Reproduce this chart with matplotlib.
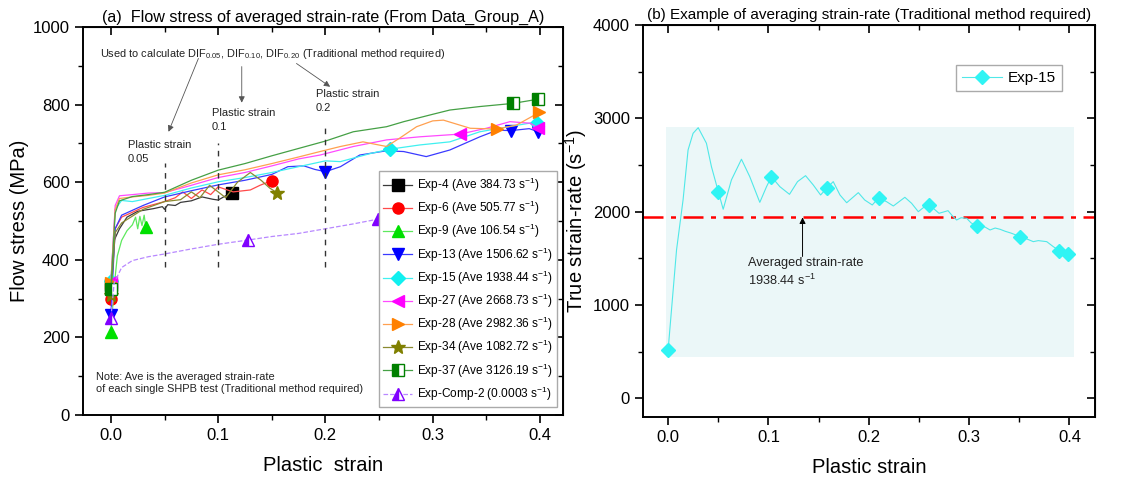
import matplotlib
matplotlib.use('Agg')
import matplotlib.pyplot as plt
from matplotlib.ticker import MultipleLocator
from matplotlib.patches import Rectangle

plt.rcParams['font.family'] = ['Liberation Sans', 'DejaVu Sans']
plt.rcParams['mathtext.default'] = 'regular'

# ================= (a) flow stress vs plastic strain
exp4_x = [0, 0.003, 0.008, 0.015, 0.025, 0.04, 0.048, 0.05, 0.053, 0.06, 0.065, 0.075, 0.085, 0.095, 0.1, 0.107, 0.113]
exp4_y = [335, 450, 480, 510, 525, 532, 537, 530, 542, 540, 548, 552, 562, 556, 554, 565, 573]
exp4_mk = [0, 0.113]

exp6_x = [0, 0.004, 0.01, 0.03, 0.05, 0.06, 0.067, 0.075, 0.085, 0.093, 0.1, 0.114, 0.13, 0.139, 0.15]
exp6_y = [299, 480, 510, 535, 550, 560, 575, 558, 580, 568, 588, 575, 580, 592, 604]
exp6_mk = [0, 0.15]

exp9_x = [0, 0.003, 0.006, 0.01, 0.015, 0.02, 0.023, 0.025, 0.027, 0.029, 0.031, 0.0326]
exp9_y = [215, 330, 410, 450, 475, 490, 510, 480, 512, 488, 515, 484]
exp9_mk = [0, 0.0326]

exp13_x = [0, 0.004, 0.01, 0.03, 0.05, 0.075, 0.1, 0.125, 0.15, 0.165, 0.18, 0.19, 0.2, 0.214, 0.232,
           0.257, 0.273, 0.294, 0.316, 0.344, 0.36, 0.373, 0.39, 0.3985]
exp13_y = [258, 480, 515, 540, 562, 578, 593, 605, 620, 640, 642, 633, 627, 640, 670,
           681, 679, 666, 683, 717, 734, 733, 738, 730]
exp13_mk = [0, 0.2, 0.373, 0.3985]

exp15_x = [0, 0.004, 0.01, 0.02, 0.035, 0.05, 0.075, 0.1, 0.125, 0.15, 0.175, 0.2, 0.214, 0.242,
           0.26, 0.288, 0.316, 0.344, 0.371, 0.39, 0.3976]
exp15_y = [345, 530, 553, 550, 558, 566, 585, 601, 612, 625, 640, 655, 653, 674,
           685, 696, 704, 730, 743, 752, 752]
exp15_mk = [0, 0.26, 0.3976]

exp27_x = [0, 0.004, 0.008, 0.02, 0.035, 0.05, 0.075, 0.1, 0.125, 0.15, 0.175, 0.195, 0.226, 0.257,
           0.288, 0.3255, 0.35, 0.372, 0.391, 0.3985]
exp27_y = [343, 540, 565, 568, 572, 573, 592, 612, 625, 642, 660, 670, 692, 709,
           717, 724, 739, 756, 752, 739]
exp27_mk = [0, 0.3255, 0.3985]

exp28_x = [0, 0.004, 0.008, 0.02, 0.035, 0.05, 0.075, 0.1, 0.125, 0.15, 0.175, 0.195, 0.214, 0.235,
           0.257, 0.27, 0.285, 0.3, 0.31, 0.335, 0.3597, 0.378, 0.3995]
exp28_y = [341, 530, 558, 562, 566, 572, 598, 619, 632, 648, 665, 679, 692, 704,
           692, 715, 743, 758, 760, 739, 737, 747, 780]
exp28_mk = [0, 0.3597, 0.3995]

exp34_x = [0, 0.004, 0.01, 0.03, 0.05, 0.065, 0.075, 0.083, 0.092, 0.1, 0.107, 0.118, 0.13, 0.14, 0.148, 0.1547]
exp34_y = [309, 470, 495, 530, 550, 555, 575, 560, 592, 575, 560, 600, 625, 605, 585, 573]
exp34_mk = [0, 0.1547]

exp37_x = [0, 0.004, 0.008, 0.02, 0.035, 0.05, 0.075, 0.1, 0.125, 0.15, 0.175, 0.2, 0.226, 0.257,
           0.273, 0.3, 0.316, 0.344, 0.3746, 0.3985]
exp37_y = [326, 520, 552, 563, 568, 574, 605, 631, 648, 668, 687, 706, 730, 743,
           756, 775, 786, 795, 803, 814]
exp37_mk = [0, 0.3746, 0.3985]

comp2_x = [0, 0.003, 0.01, 0.02, 0.035, 0.05, 0.075, 0.1, 0.128, 0.15, 0.175, 0.2, 0.225, 0.2494]
comp2_y = [250, 340, 380, 398, 408, 415, 428, 440, 451, 460, 468, 480, 492, 505]
comp2_mk = [0, 0.128, 0.2494]

labels = ['Exp-4 (Ave 384.73 s$^{-1}$)', 'Exp-6 (Ave 505.77 s$^{-1}$)', 'Exp-9 (Ave 106.54 s$^{-1}$)',
          'Exp-13 (Ave 1506.62 s$^{-1}$)', 'Exp-15 (Ave 1938.44 s$^{-1}$)', 'Exp-27 (Ave 2668.73 s$^{-1}$)',
          'Exp-28 (Ave 2982.36 s$^{-1}$)', 'Exp-34 (Ave 1082.72 s$^{-1}$)', 'Exp-37 (Ave 3126.19 s$^{-1}$)',
          'Exp-Comp-2 (0.0003 s$^{-1}$)']

# ================= (b) strain-rate history of Exp-15
rate_x = [0, 0.0084, 0.0149, 0.0199, 0.0249, 0.030, 0.0382, 0.0432, 0.0502, 0.0549, 0.0631, 0.0731,
          0.0814, 0.0914, 0.0981, 0.103, 0.1114, 0.121, 0.129, 0.137, 0.1447, 0.152, 0.158, 0.1646,
          0.1713, 0.178, 0.1896, 0.196, 0.2035, 0.210, 0.2178, 0.2245, 0.236, 0.2427, 0.2494, 0.254,
          0.260, 0.265, 0.27, 0.274, 0.279, 0.283, 0.2876, 0.292, 0.2976, 0.302, 0.3076, 0.312,
          0.3209, 0.326, 0.331, 0.336, 0.342, 0.351, 0.356, 0.364, 0.369, 0.3774, 0.384, 0.3901, 0.399]
rate_y = [518, 1590, 2126, 2662, 2840, 2900, 2733, 2482, 2208, 2026, 2340, 2562,
          2375, 2100, 2268, 2375, 2268, 2186, 2322, 2386, 2286, 2179, 2251, 2322,
          2179, 2096, 2204, 2125, 2072, 2150, 2107, 2061, 2154, 2090, 2000, 2040,
          2072, 2030, 1983, 1995, 2011, 1960, 1911, 1935, 1929, 1880, 1847, 1860,
          1804, 1825, 1811, 1790, 1770, 1732, 1715, 1679, 1690, 1679, 1625, 1582, 1547]
rate_mk = [0, 0.0502, 0.103, 0.158, 0.210, 0.260, 0.3076, 0.351, 0.3901, 0.399]
ave_rate = 1938.44

fig = plt.figure(figsize=(11.45, 4.83), dpi=100)
ax1 = fig.add_axes([0.0725, 0.1408, 0.4192, 0.8033])
ax2 = fig.add_axes([0.5616, 0.1366, 0.3948, 0.8116])

series = [
    (exp4_x, exp4_y, exp4_mk, 's', '#000000', '#3a3a3a', '-', 'full'),
    (exp6_x, exp6_y, exp6_mk, 'o', '#ff0000', '#ff4a4a', '-', 'full'),
    (exp9_x, exp9_y, exp9_mk, '^', '#00e000', '#5ee85e', '-', 'full'),
    (exp13_x, exp13_y, exp13_mk, 'v', '#0000ff', '#3a3aff', '-', 'full'),
    (exp15_x, exp15_y, exp15_mk, 'D', '#10f0f0', '#40f0f0', '-', 'full'),
    (exp27_x, exp27_y, exp27_mk, '<', '#ff00ff', '#ff4aff', '-', 'full'),
    (exp28_x, exp28_y, exp28_mk, '>', '#ff8000', '#ffa050', '-', 'full'),
    (exp34_x, exp34_y, exp34_mk, '*', '#808000', '#8a8a30', '-', 'full'),
    (exp37_x, exp37_y, exp37_mk, 's', '#008000', '#45a045', '-', 'left'),
    (comp2_x, comp2_y, comp2_mk, '^', '#8000ff', '#b888ff', '--', 'left'),
]

for (xs, ys, mk, m, mc, lc, ls, fs), lab in zip(series, labels):
    idx = [xs.index(v) for v in mk]
    ms = 10 if m == '*' else 8
    if m == 'D':
        ms = 7
    ax1.plot(xs, ys, color=lc, lw=0.9, ls=ls, marker=m, markevery=idx, ms=ms,
             mfc=mc, mec=mc, fillstyle=fs, markerfacecoloralt='white', label=lab)

# dashed reference lines at plastic strain 0.05, 0.1, 0.2
for xv, ytop in [(0.05, 650), (0.1, 700), (0.2, 750)]:
    ax1.plot([xv, xv], [382, ytop], color='#333333', lw=1.0, ls=(0, (4, 4)))

ax1.text(-0.01, 930, 'Used to calculate DIF$_{0.05}$, DIF$_{0.10}$, DIF$_{0.20}$ (Traditional method required)',
         fontsize=7.9, va='center', ha='left', color='#222222')
ax1.text(0.016, 710, 'Plastic strain\n0.05', fontsize=8, va='top', ha='left', linespacing=1.5, color='#222222')
ax1.text(0.094, 792, 'Plastic strain\n0.1', fontsize=8, va='top', ha='left', linespacing=1.5, color='#222222')
ax1.text(0.191, 839, 'Plastic strain\n0.2', fontsize=8, va='top', ha='left', linespacing=1.5, color='#222222')
arr_g = dict(arrowstyle='-|>', color='#555555', lw=0.6, mutation_scale=9, shrinkA=0, shrinkB=0)
ax1.annotate('', xy=(0.0537, 730), xytext=(0.0816, 919), arrowprops=arr_g)
ax1.annotate('', xy=(0.122, 805), xytext=(0.122, 898), arrowprops=arr_g)
ax1.annotate('', xy=(0.2044, 846), xytext=(0.173, 906), arrowprops=arr_g)

ax1.text(-0.0137, 82, 'Note: Ave is the averaged strain-rate\nof each single SHPB test (Traditional method required)',
         fontsize=7.9, va='center', ha='left', linespacing=1.25, color='#222222')

leg = ax1.legend(loc='lower right', bbox_to_anchor=(0.9875, 0.0206), borderaxespad=0, fontsize=8.6,
                 labelspacing=0.42, handlelength=2.4, handletextpad=0.4, borderpad=0.35,
                 fancybox=False, framealpha=1, edgecolor='#aaaaaa')
leg.get_frame().set_linewidth(1.0)

ax1.set_xlim(-0.026, 0.4215)
ax1.set_ylim(0, 1000)
ax1.xaxis.set_major_locator(MultipleLocator(0.1))
ax1.xaxis.set_minor_locator(MultipleLocator(0.05))
ax1.yaxis.set_major_locator(MultipleLocator(200))
ax1.yaxis.set_minor_locator(MultipleLocator(100))
ax1.set_xlabel('Plastic  strain', fontsize=14.5, labelpad=9)
ax1.set_ylabel('Flow stress (MPa)', fontsize=14.5, labelpad=3)
ax1.set_title('(a)  Flow stress of averaged strain-rate (From Data_Group_A)', fontsize=11.6, pad=4)

# ================= (b)
ax2.add_patch(Rectangle((-0.002, 443), 0.407, 2908 - 443, facecolor='#ebf7f8', edgecolor='none', zorder=0))
ax2.axhline(ave_rate, color='#ff0000', lw=1.8, ls=(0, (8, 3, 2, 3)), zorder=2)
ridx = [rate_x.index(v) for v in rate_mk]
ax2.plot(rate_x, rate_y, color='#50e8e8', lw=0.8, marker='D', markevery=ridx, ms=7,
         mfc='#30f4f4', mec='#30f4f4', label='Exp-15', zorder=3)
ax2.annotate('', xy=(0.134, ave_rate), xytext=(0.134, 1520),
             arrowprops=dict(arrowstyle='-|>', color='black', lw=0.7, mutation_scale=9, shrinkA=0, shrinkB=0))
ax2.text(0.0795, 1510, 'Averaged strain-rate\n1938.44 s$^{-1}$', fontsize=9.2, va='top', ha='left',
         linespacing=1.3, color='#222222')
leg2 = ax2.legend(loc='upper right', bbox_to_anchor=(0.927, 0.898), borderaxespad=0, fontsize=11,
                  handlelength=2.6, handletextpad=0.4, fancybox=False, framealpha=1, edgecolor='#aaaaaa')
leg2.get_frame().set_linewidth(1.0)

ax2.set_xlim(-0.025, 0.4256)
ax2.set_ylim(-200, 4000)
ax2.xaxis.set_major_locator(MultipleLocator(0.1))
ax2.xaxis.set_minor_locator(MultipleLocator(0.05))
ax2.yaxis.set_major_locator(MultipleLocator(1000))
ax2.yaxis.set_minor_locator(MultipleLocator(500))
ax2.set_xlabel('Plastic strain', fontsize=14.5, labelpad=9)
ax2.set_ylabel('True strain-rate (s$^{-1}$)', fontsize=14.5, labelpad=3)
ax2.set_title('(b) Example of averaging strain-rate (Traditional method required)', fontsize=11, pad=4)

for ax in (ax1, ax2):
    for sp in ax.spines.values():
        sp.set_linewidth(1.4)
    ax.tick_params(which='major', direction='out', length=6, width=1.2, labelsize=12)
    ax.tick_params(which='minor', direction='out', length=3.5, width=1.0)
    # inward ticks on top and right, like the original
    top = ax.secondary_xaxis('top')
    top.xaxis.set_major_locator(MultipleLocator(0.1))
    top.xaxis.set_minor_locator(MultipleLocator(0.05))
    top.tick_params(which='major', direction='in', length=6, width=1.2, labeltop=False)
    top.tick_params(which='minor', direction='in', length=3.5, width=1.0)
    right = ax.secondary_yaxis('right')
    right.yaxis.set_major_locator(ax.yaxis.get_major_locator())
    right.yaxis.set_minor_locator(ax.yaxis.get_minor_locator())
    right.tick_params(which='major', direction='in', length=6, width=1.2, labelright=False)
    right.tick_params(which='minor', direction='in', length=3.5, width=1.0)

fig.savefig('out.png', dpi=100)
